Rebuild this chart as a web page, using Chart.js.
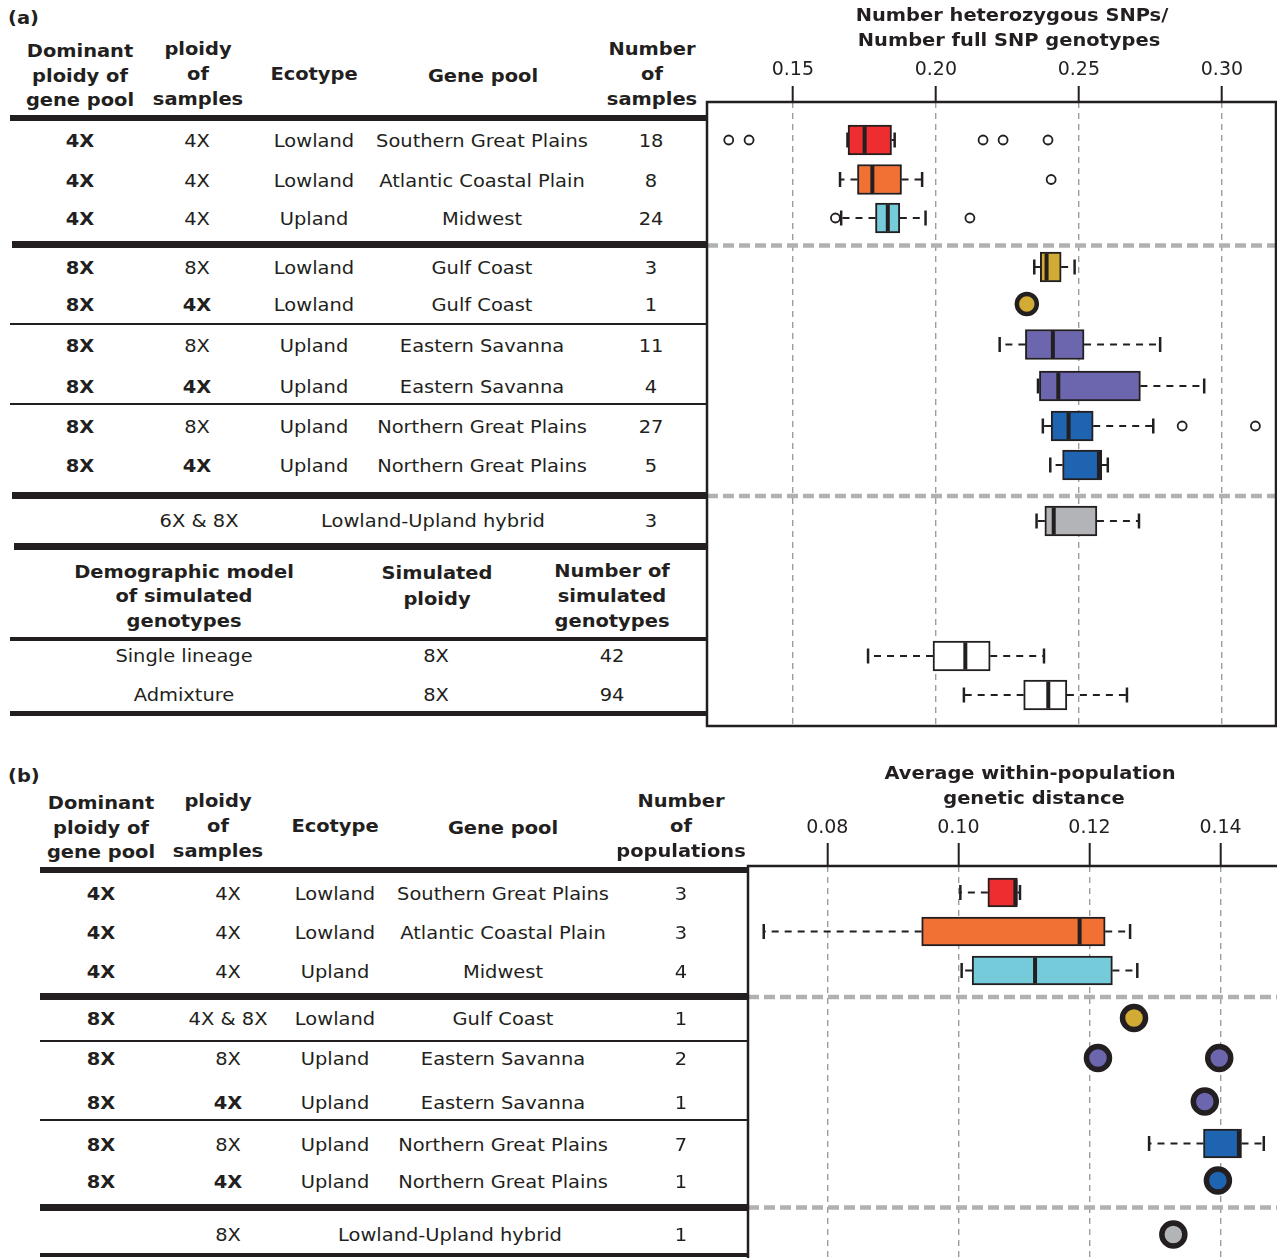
<!DOCTYPE html>
<html>
<head>
<meta charset="utf-8">
<script src="https://cdn.jsdelivr.net/npm/chart.js@4.4.1/dist/chart.umd.min.js"></script>
<style>
  html, body { margin: 0; padding: 0; background: #fff; overflow: hidden; width: 1277px; height: 1258px; }
  body { position: relative; font-family: "DejaVu Sans", sans-serif; color: #231f20; }
  .t { position: absolute; white-space: nowrap; transform: translate(-50%, -50%) scaleX(1.08); font-size: 18px; line-height: 1; }
  .t.left { transform: translate(0, -50%) scaleX(1.08); transform-origin: 0 50%; }
  .b { font-weight: bold; }
  .rule { position: absolute; background: #231f20; }
  canvas { position: absolute; }
</style>
</head>
<body>
<canvas id="chartA"></canvas>
<canvas id="chartB"></canvas>
<script>
// ================= Panel (a): heterozygosity per genotype =================
const dominantA     = ['4X', '4X', '4X', '8X', '8X', '8X', '8X', '8X', '8X'];
const samplePloidyA = ['4X', '4X', '4X', '8X', '4X', '8X', '4X', '8X', '4X'];
const ecotypeA      = ['Lowland', 'Lowland', 'Upland', 'Lowland', 'Lowland', 'Upland', 'Upland', 'Upland', 'Upland'];
const genePoolA     = ['Southern Great Plains', 'Atlantic Coastal Plain', 'Midwest', 'Gulf Coast', 'Gulf Coast',
                       'Eastern Savanna', 'Eastern Savanna', 'Northern Great Plains', 'Northern Great Plains'];
const nSamplesA     = [18, 8, 24, 3, 1, 11, 4, 27, 5];
const hybridPloidyA = '6X & 8X';
const hybridNameA   = 'Lowland-Upland hybrid';
const hybridNA      = 3;
const simModels     = ['Single lineage', 'Admixture'];
const simPloidy     = ['8X', '8X'];
const simN          = [42, 94];

// box statistics, one entry per plotted row: 9 gene pools, hybrid, 2 simulated sets
const loA     = [0.1691, 0.1665, 0.1669, 0.2344, null, 0.2223, 0.2357, 0.2374, 0.2400, 0.2352, 0.1763, 0.2098];
const q1A     = [0.1693, 0.1726, 0.1789, 0.2365, null, 0.2313, 0.2362, 0.2403, 0.2443, 0.2381, 0.1990, 0.2307];
const medA    = [0.1751, 0.1778, 0.1832, 0.2387, null, 0.2409, 0.2428, 0.2464, 0.2570, 0.2412, 0.2103, 0.2393];
const q3A     = [0.1845, 0.1880, 0.1874, 0.2438, null, 0.2518, 0.2715, 0.2550, 0.2580, 0.2563, 0.2190, 0.2458];
const hiA     = [0.1856, 0.1952, 0.1964, 0.2485, null, 0.2784, 0.2938, 0.2760, 0.2601, 0.2710, 0.2378, 0.2668];
const outA    = [[0.1276, 0.1347, 0.2165, 0.2235, 0.2392], [0.2403], [0.1649, 0.2119], [], [], [], [],
                 [0.2861, 0.3117], [], [], [], []];
const singleA = [[], [], [], [], [0.2318], [], [], [], [], [], [], []];
const ticksA  = [0.15, 0.20, 0.25, 0.30];

// ================= Panel (b): within-population genetic distance =================
const dominantB     = ['4X', '4X', '4X', '8X', '8X', '8X', '8X', '8X'];
const samplePloidyB = ['4X', '4X', '4X', '4X & 8X', '8X', '4X', '8X', '4X'];
const ecotypeB      = ['Lowland', 'Lowland', 'Upland', 'Lowland', 'Upland', 'Upland', 'Upland', 'Upland'];
const genePoolB     = ['Southern Great Plains', 'Atlantic Coastal Plain', 'Midwest', 'Gulf Coast',
                       'Eastern Savanna', 'Eastern Savanna', 'Northern Great Plains', 'Northern Great Plains'];
const nPopsB        = [3, 3, 4, 1, 2, 1, 7, 1];
const hybridPloidyB = '8X';
const hybridNameB   = 'Lowland-Upland hybrid';
const hybridNB      = 1;

// rows: 8 gene pools + hybrid
const loB     = [0.1003, 0.0703, 0.1005, null, null, null, 0.1291, null, null];
const q1B     = [0.1045, 0.0944, 0.1021, null, null, null, 0.1374, null, null];
const medB    = [0.1087, 0.1185, 0.1117, null, null, null, 0.1428, null, null];
const q3B     = [0.1090, 0.1224, 0.1235, null, null, null, 0.1432, null, null];
const hiB     = [0.1094, 0.1262, 0.1273, null, null, null, 0.1466, null, null];
const outB    = [[], [], [], [], [], [], [], [], []];
const singleB = [[], [], [], [0.1268], [0.1213, 0.1398], [0.1376], [], [0.1396], [0.1328]];
const ticksB  = [0.08, 0.10, 0.12, 0.14];

// ================= styling & layout =================
const INK = '#231f20';
const POOL_COLORS = {
  'Southern Great Plains': '#ee2d31',
  'Atlantic Coastal Plain': '#f07133',
  'Midwest': '#75cbd9',
  'Gulf Coast': '#d1ab33',
  'Eastern Savanna': '#6c66ae',
  'Northern Great Plains': '#1e64b0',
  'Lowland-Upland hybrid': '#b3b4b7',
  'simulated': '#ffffff'
};
const fillA = [...genePoolA, hybridNameA, 'simulated', 'simulated'].map(k => POOL_COLORS[k]);
const fillB = [...genePoolB, hybridNameB].map(k => POOL_COLORS[k]);

// vertical row centres (page pixels) shared by the table and the plot
const LAYOUT_A = {
  rowY: [140, 179.5, 218, 267, 304, 344.5, 386, 426, 465, 521, 656, 695],
  sepY: [245.5, 496],
  area: { left: 707, right: 1276, top: 102, bottom: 726 },
  range: [0.1200, 0.3189],
  canvasTop: 0, tickLength: 16, tickPad: 5,
  boxH: 30, medR: 13.5, capR: 7.5, singleR: 10, singleBW: 4.5
};
const LAYOUT_B = {
  rowY: [892.5, 931.5, 970.5, 1018, 1058, 1101.5, 1143.5, 1180.5, 1234.5],
  sepY: [997, 1207.5],
  area: { left: 748, right: 1290, top: 866, bottom: 1272 },
  range: [0.0679, 0.1506],
  canvasTop: 760, tickLength: 23, tickPad: 4,
  boxH: 29, medR: 13, capR: 7.5, singleR: 11.5, singleBW: 5.5
};

// ================= table drawing =================
function put(x, y, text, bold, align) {
  const d = document.createElement('div');
  d.className = 't' + (bold ? ' b' : '') + (align === 'left' ? ' left' : '');
  d.style.left = x + 'px';
  d.style.top = y + 'px';
  d.textContent = text;
  document.body.appendChild(d);
}
function rule(x1, x2, y, h) {
  const d = document.createElement('div');
  d.className = 'rule';
  d.style.left = x1 + 'px';
  d.style.width = (x2 - x1) + 'px';
  d.style.top = (y - h / 2) + 'px';
  d.style.height = h + 'px';
  document.body.appendChild(d);
}
function header(lines, x, ys) { lines.forEach((s, i) => put(x, ys[i], s, true)); }

// panel (a) table
put(8, 18, '(a)', true, 'left');
header(['Dominant', 'ploidy of', 'gene pool'], 80, [51, 76, 100]);
header(['ploidy', 'of', 'samples'], 198, [49, 74, 99]);
header(['Ecotype'], 314, [74]);
header(['Gene pool'], 483, [76]);
header(['Number', 'of', 'samples'], 652, [49, 74, 99]);
genePoolA.forEach((g, i) => {
  const y = LAYOUT_A.rowY[i] + 1;
  put(80, y, dominantA[i], true);
  put(197, y, samplePloidyA[i], samplePloidyA[i] !== dominantA[i]);
  put(314, y, ecotypeA[i]);
  put(482, y, g);
  put(651, y, String(nSamplesA[i]));
});
put(199, LAYOUT_A.rowY[9], hybridPloidyA);
put(433, LAYOUT_A.rowY[9], hybridNameA);
put(651, LAYOUT_A.rowY[9], String(hybridNA));
header(['Demographic model', 'of simulated', 'genotypes'], 184, [572, 596, 621]);
header(['Simulated', 'ploidy'], 437, [573, 599]);
header(['Number of', 'simulated', 'genotypes'], 612, [571, 596, 621]);
simModels.forEach((m, i) => {
  const y = LAYOUT_A.rowY[10 + i];
  put(184, y, m);
  put(436, y, simPloidy[i]);
  put(612, y, String(simN[i]));
});
rule(10, 706, 117.5, 6);
rule(12, 707, 244.5, 7);
rule(10, 706, 324, 2);
rule(10, 706, 403.5, 2);
rule(12, 707, 495, 7);
rule(14, 707, 546.5, 7);
rule(10, 706, 638.5, 4);
rule(10, 706, 713.5, 4.5);

// panel (b) table
put(8, 776, '(b)', true, 'left');
header(['Dominant', 'ploidy of', 'gene pool'], 101, [803, 828, 852]);
header(['ploidy', 'of', 'samples'], 218, [801, 826, 851]);
header(['Ecotype'], 335, [826]);
header(['Gene pool'], 503, [828]);
header(['Number', 'of', 'populations'], 681, [801, 826, 851]);
genePoolB.forEach((g, i) => {
  const y = LAYOUT_B.rowY[i] + 1;
  put(101, y, dominantB[i], true);
  put(228, y, samplePloidyB[i], samplePloidyB[i] === '4X' && dominantB[i] === '8X');
  put(335, y, ecotypeB[i]);
  put(503, y, g);
  put(681, y, String(nPopsB[i]));
});
put(228, LAYOUT_B.rowY[8], hybridPloidyB);
put(450, LAYOUT_B.rowY[8], hybridNameB);
put(681, LAYOUT_B.rowY[8], String(hybridNB));
rule(40, 748, 870, 6);
rule(40, 748, 996.5, 7);
rule(40, 748, 1040.5, 2);
rule(40, 748, 1119.5, 2);
rule(40, 748, 1207, 7);
rule(40, 748, 1255, 4);

// axis titles
put(1012, 15, 'Number heterozygous SNPs/', true);
put(1009, 40, 'Number full SNP genotypes', true);
put(1030, 773, 'Average within-population', true);
put(1034, 798, 'genetic distance', true);

// ================= box plots =================
const framePlugin = {
  id: 'frame',
  afterDatasetsDraw(chart) {
    const { ctx, chartArea: a } = chart;
    ctx.save();
    ctx.strokeStyle = INK;
    ctx.lineWidth = 2.5;
    ctx.strokeRect(a.left, a.top, a.right - a.left, a.bottom - a.top);
    ctx.restore();
  }
};
const separatorPlugin = {
  id: 'separators',
  beforeDatasetsDraw(chart, args, opts) {
    const { ctx, chartArea: a, scales } = chart;
    ctx.save();
    ctx.strokeStyle = '#b1b1b3';
    ctx.lineWidth = 4.5;
    ctx.setLineDash([11, 5]);
    (opts.at || []).forEach(v => {
      const y = scales.y.getPixelForValue(v);
      ctx.beginPath();
      ctx.moveTo(a.left, y);
      ctx.lineTo(a.right, y);
      ctx.stroke();
    });
    ctx.restore();
  }
};

function buildChart(id, L, stats, ticks) {
  const { lo, q1, med, q3, hi, out, single, fill } = stats;
  const whisk = [], caps = [], boxes = [], boxFill = [], meds = [], outs = [], singles = [], singleFill = [];
  L.rowY.forEach((y, i) => {
    if (q1[i] != null) {
      whisk.push({ x: q1[i], y }, { x: lo[i], y }, { x: null, y: null },
                 { x: q3[i], y }, { x: hi[i], y }, { x: null, y: null });
      caps.push({ x: lo[i], y }, { x: hi[i], y });
      boxes.push({ x: [q1[i], q3[i]], y });
      boxFill.push(fill[i]);
      meds.push({ x: med[i], y });
    }
    out[i].forEach(v => outs.push({ x: v, y }));
    single[i].forEach(v => { singles.push({ x: v, y }); singleFill.push(fill[i]); });
  });

  const a = L.area;
  const canvasLeft = a.left - 8;
  const canvas = document.getElementById(id);
  canvas.width = a.right + 2 - canvasLeft;
  canvas.height = a.bottom + 4 - L.canvasTop;
  canvas.style.left = canvasLeft + 'px';
  canvas.style.top = L.canvasTop + 'px';
  const axisH = a.top - L.canvasTop;

  return new Chart(canvas.getContext('2d'), {
    type: 'bar',
    data: {
      datasets: [
        { type: 'scatter', label: 'whiskers', data: whisk, showLine: true, spanGaps: false,
          borderColor: INK, borderWidth: 2, borderDash: [7, 6], pointRadius: 0, order: 5 },
        { type: 'scatter', label: 'whisker ends', data: caps, pointStyle: 'line', pointRotation: 90,
          pointRadius: L.capR, pointBorderWidth: 2.5, pointBorderColor: INK, order: 4 },
        { type: 'bar', label: 'interquartile range', data: boxes, indexAxis: 'y', backgroundColor: boxFill,
          borderColor: INK, borderWidth: 2, borderSkipped: false, barThickness: L.boxH, order: 3 },
        { type: 'scatter', label: 'median', data: meds, pointStyle: 'line', pointRotation: 90,
          pointRadius: L.medR, pointBorderWidth: 4, pointBorderColor: INK, order: 2 },
        { type: 'scatter', label: 'outliers', data: outs, pointStyle: 'circle', pointRadius: 4.5,
          pointBorderWidth: 1.8, pointBorderColor: INK, pointBackgroundColor: '#ffffff', order: 1 },
        { type: 'scatter', label: 'single values', data: singles, pointStyle: 'circle', pointRadius: L.singleR,
          pointBorderWidth: L.singleBW, pointBorderColor: INK, pointBackgroundColor: singleFill, order: 0 }
      ]
    },
    options: {
      responsive: false,
      animation: false,
      events: [],
      indexAxis: 'y',
      layout: { autoPadding: false, padding: { left: 8, right: 2, top: 0, bottom: 4 } },
      plugins: {
        legend: { display: false },
        tooltip: { enabled: false },
        separators: { at: L.sepY }
      },
      scales: {
        x: {
          type: 'linear', position: 'top', min: L.range[0], max: L.range[1], offset: false,
          afterFit: s => { s.height = axisH; s.paddingLeft = 0; s.paddingRight = 0; },
          afterBuildTicks: s => { s.ticks = ticks.map(v => ({ value: v })); },
          grid: { color: '#9d9d9d', lineWidth: 1.4, tickColor: INK, tickWidth: 2, tickLength: L.tickLength,
                  tickBorderDash: [], drawOnChartArea: true, offset: false },
          border: { display: false, dash: [6, 5] },
          ticks: { font: { family: 'DejaVu Sans', size: 19 }, color: INK, padding: L.tickPad,
                   maxRotation: 0, autoSkip: false, callback: v => Number(v).toFixed(2) }
        },
        y: { type: 'linear', min: a.top, max: a.bottom, reverse: true, display: false, offset: false }
      }
    },
    plugins: [separatorPlugin, framePlugin]
  });
}

buildChart('chartA', LAYOUT_A,
  { lo: loA, q1: q1A, med: medA, q3: q3A, hi: hiA, out: outA, single: singleA, fill: fillA }, ticksA);
buildChart('chartB', LAYOUT_B,
  { lo: loB, q1: q1B, med: medB, q3: q3B, hi: hiB, out: outB, single: singleB, fill: fillB }, ticksB);
</script>
</body>
</html>
